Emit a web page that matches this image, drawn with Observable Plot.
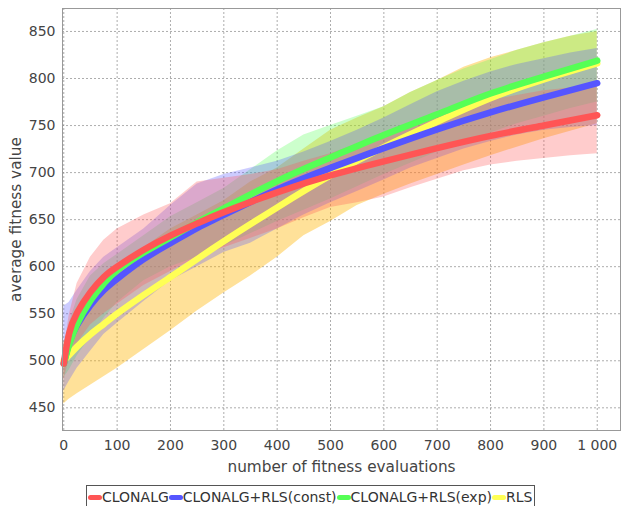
<!DOCTYPE html>
<html><head><meta charset="utf-8">
<script src="https://cdn.jsdelivr.net/npm/d3@7"></script>
<script src="https://cdn.jsdelivr.net/npm/@observablehq/plot@0.6"></script>
<style>
body{margin:0;background:#fff;font-family:"DejaVu Sans",sans-serif;}
#legend{position:absolute;left:86px;top:485px;height:24px;border:1px solid #555;display:flex;align-items:center;padding:0 2px 0 1px;font-size:14px;color:#333;box-sizing:border-box;white-space:nowrap;}
.sw{display:inline-block;width:14px;height:5px;border-radius:3px;}
</style></head><body>
<div id="chart"></div>
<div id="legend"></div>
<script>
// ---- data ----
const seriesNames = ["CLONALG", "CLONALG+RLS(const)", "CLONALG+RLS(exp)", "RLS"];
const lineX = [0, 10, 25, 50, 75, 100, 150, 200, 250, 300, 400, 500, 600, 700, 800, 900, 1000];
const meanClonalg = [497, 529, 551, 573, 589, 600, 618, 633, 646, 658, 679, 697, 712, 726, 739, 750, 761];
const meanConst   = [497, 519, 538, 559, 575, 587, 608, 625, 641, 655, 682, 705, 726, 746, 764, 780, 795];
const meanExp     = [497, 517, 539, 564, 582, 596, 615, 631, 647, 662, 691, 716, 740, 762, 784, 802, 819];
const meanRls     = [500, 506, 515, 528, 539, 550, 570, 589, 608, 627, 663, 697, 727, 754, 779, 799, 816];

const bandX = [0, 10, 25, 50, 75, 100, 150, 200, 250, 300, 350, 400, 450, 500, 550, 600, 650, 700, 750, 800, 850, 900, 950, 1000];
const loClonalg = [480, 500, 518, 538, 550, 560, 580, 595, 610, 620, 630, 640, 652, 663, 668, 674, 684, 693, 702, 708, 712, 715, 718, 720];
const hiClonalg = [510, 548, 582, 610, 628, 640, 655, 667, 690, 694, 698, 703, 712, 720, 730, 740, 750, 762, 770, 777, 782, 787, 790, 792];
const loConst   = [468, 478, 492, 510, 528, 540, 563, 585, 600, 615, 625, 640, 655, 668, 680, 692, 705, 715, 725, 733, 740, 745, 748, 750];
const hiConst   = [558, 562, 575, 595, 610, 620, 640, 665, 688, 698, 705, 712, 722, 733, 745, 758, 772, 786, 797, 807, 815, 821, 827, 832];
const loExp     = [482, 490, 505, 525, 545, 562, 585, 600, 610, 622, 635, 648, 660, 672, 685, 698, 710, 722, 732, 742, 752, 760, 768, 775];
const hiExp     = [515, 540, 565, 590, 603, 613, 633, 653, 668, 683, 703, 723, 740, 750, 760, 770, 785, 798, 810, 820, 830, 838, 845, 852];
const loRls     = [454, 459, 465, 474, 483, 492, 512, 532, 553, 572, 590, 610, 633, 648, 665, 677, 688, 698, 708, 718, 727, 736, 744, 752];
const hiRls     = [520, 530, 545, 565, 580, 595, 620, 640, 655, 670, 690, 705, 725, 745, 758, 770, 785, 798, 812, 822, 830, 838, 845, 850];

const xTicks = [0, 100, 200, 300, 400, 500, 600, 700, 800, 900, 1000];
const xTickLabels = ["0", "100", "200", "300", "400", "500", "600", "700", "800", "900", "1\u00a0000"];
const yTicks = [450, 500, 550, 600, 650, 700, 750, 800, 850];
const xTitle = "number of fitness evaluations";
const yTitle = "average fitness value";

// ---- styling ----
const lineColors = ["#ff5555", "#5555ff", "#55ff55", "#ffff55"];
const bandFills = ["#ff5555", "#5555ff", "#55ff55", "#ffb400"];
const bandOpac = [0.3, 0.3, 0.3, 0.4];

const means = [meanClonalg, meanConst, meanExp, meanRls];
const los = [loClonalg, loConst, loExp, loRls];
const his = [hiClonalg, hiConst, hiExp, hiRls];

const lineData = means.map(m => lineX.map((x, i) => ({x, v: m[i]})));
const bandData = los.map((lo, s) => bandX.map((x, i) => ({x, lo: lo[i], hi: his[s][i]})));
const tickMap = new Map(xTicks.map((t, i) => [t, xTickLabels[i]]));

const bandOrder = [3, 2, 1, 0];
const lineOrder = [3, 1, 2, 0];

const chart = Plot.plot({
  width: 621, height: 480,
  marginLeft: 62, marginRight: 1, marginTop: 8, marginBottom: 50,
  x: {domain: [-2.4, 1043.6]},
  y: {domain: [425.9, 874.4]},
  style: {fontFamily: "DejaVu Sans, sans-serif", fontSize: "14px", color: "#444", background: "white", overflow: "visible"},
  marks: [
    Plot.gridX(xTicks, {stroke: "#777", strokeDasharray: "2,2", strokeOpacity: 0.6}),
    Plot.gridY(yTicks, {stroke: "#777", strokeDasharray: "2,2", strokeOpacity: 0.6}),
    ...bandOrder.map(s => Plot.areaY(bandData[s], {x: "x", y1: "lo", y2: "hi", fill: bandFills[s], fillOpacity: bandOpac[s], curve: "linear"})),
    ...lineOrder.map(s => Plot.line(lineData[s], {x: "x", y: "v", stroke: lineColors[s], strokeWidth: 6.5, curve: "natural", strokeLinecap: "round"})),
    Plot.frame({stroke: "#999"}),
    Plot.axisX(xTicks, {tickSize: 0, tickPadding: 10, tickFormat: d => tickMap.get(d), label: null, fill: "#444"}),
    Plot.axisY(yTicks, {tickSize: 0, tickPadding: 7, label: null, fill: "#444"}),
    Plot.text([xTitle], {frameAnchor: "bottom", dy: 37, lineAnchor: "middle", textAnchor: "middle", fontSize: 15.3, fill: "#444"}),
    Plot.text([yTitle], {frameAnchor: "middle", dx: -325, rotate: -90, lineAnchor: "middle", textAnchor: "middle", fontSize: 15.3, fill: "#444"})
  ]
});
document.getElementById("chart").appendChild(chart);

const legend = document.getElementById("legend");
seriesNames.forEach((n, i) => {
  const sw = document.createElement("span");
  sw.className = "sw";
  sw.style.background = lineColors[i];
  legend.appendChild(sw);
  const t = document.createElement("span");
  t.textContent = n;
  legend.appendChild(t);
});
</script></body></html>
